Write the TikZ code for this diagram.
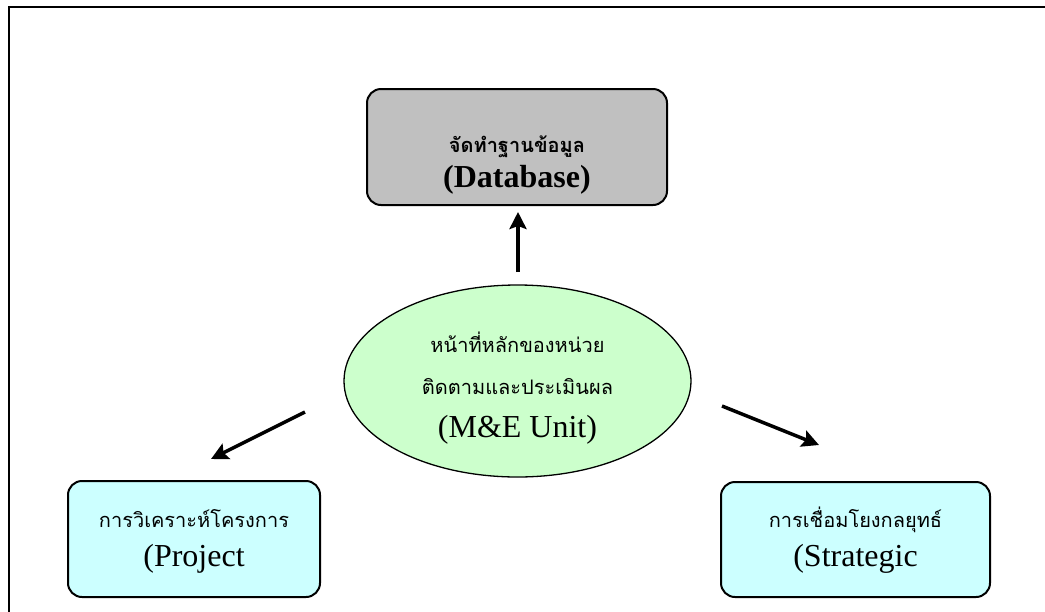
\documentclass[tikz,border=0pt]{standalone}
\usepackage{fontspec}
\setmainfont{Liberation Serif}
\newfontfamily\thaifont[Script=Thai]{Loma}
\usepackage{xcolor}
\usepackage{tikz}
\usetikzlibrary{
	shapes,arrows.meta
}

\definecolor{dbgray}{RGB}{192,192,192}
\definecolor{unitgreen}{RGB}{204,255,204}
\definecolor{taskcyan}{RGB}{204,255,255}

\newcommand{\thline}[1]{{\thaifont\fontsize{20}{24}\selectfont #1}}
\newcommand{\enline}[1]{{\fontsize{32}{36}\selectfont #1}}
% first line with a fixed height, last line with no depth
\newcommand{\topline}[2]{\raisebox{0pt}[#1][0pt]{#2}}
\newcommand{\botline}[1]{\raisebox{0pt}[0pt][0pt]{#1}}

\tikzset{
	lines/.style={font={\fontsize{20}{#1}\selectfont\lineskiplimit=-1000pt}},
	taskbox/.style={draw,line width=2pt,rounded corners=14pt,align=center,inner sep=0pt},
	unit/.style={draw,ellipse,line width=1.3pt,fill=unitgreen,align=center,inner sep=0pt,
		minimum width=347pt,minimum height=192pt},
	flow/.style={line width=3.5pt,-{Stealth[length=17pt,width=17pt,inset=3pt]}}
}

\begin{document}
\begin{tikzpicture}[x=1pt,y=-1pt]
		\useasboundingbox (0,0) rectangle (1045,611);
		% frame
		\draw[line width=2.5pt] (1060,7) -- (9,7) -- (9,625);
		%
		\node[taskbox,lines=35pt,fill=dbgray,minimum width=300pt,minimum height=116pt] (D) at (517,147)
			{\topline{45pt}{\bfseries\thline{จัดทำฐานข้อมูล}}\\\botline{\enline{\bfseries (Database)}}};
		\node[unit,lines=42.5pt] (M) at (517.5,381)
			{\topline{27pt}{\thline{หน้าที่หลักของหน่วย}}\\\thline{ติดตามและประเมินผล}\\\botline{\enline{(M\&E Unit)}}};
		\node[taskbox,lines=39pt,fill=taskcyan,minimum width=252pt,minimum height=116pt] (P) at (194,539)
			{\topline{15pt}{\thline{การวิเคราะห์โครงการ}}\\\botline{\enline{(Project}}};
		\node[taskbox,lines=39pt,fill=taskcyan,minimum width=269pt,minimum height=115pt] (S) at (855.5,539.5)
			{\topline{14pt}{\thline{การเชื่อมโยงกลยุทธ์}}\\\botline{\enline{(Strategic}}};
		%
		\coordinate (Mn) at (518,272);
		\coordinate (Ds) at (518,212);
		\coordinate (Mw) at (305,412);
		\coordinate (Pn) at (211,459);
		\coordinate (Me) at (722,406);
		\coordinate (Sn) at (819,445);
		\path[flow]
		(Mn) edge (Ds)
		(Mw) edge (Pn)
		(Me) edge (Sn);
\end{tikzpicture}
\end{document}
